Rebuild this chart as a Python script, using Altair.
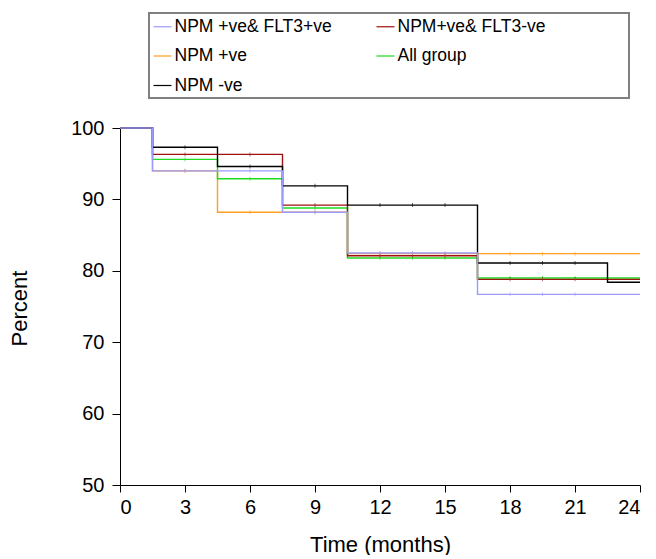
import altair as alt
import pandas as pd

# Series names (legend order) and colours
names = ["NPM +ve& FLT3+ve", "NPM+ve& FLT3-ve", "NPM +ve", "All group", "NPM -ve"]
colors = ["#9a9aff", "#a01010", "#ff9f1f", "#1edc1e", "#000000"]

# Kaplan-Meier step data (time in months, percent surviving)
t_flt3pos = [0, 1.5, 7.5, 10.5, 16.5, 24]
v_flt3pos = [100, 94.0, 88.2, 82.5, 76.7, 76.7]

t_flt3neg = [0, 1.5, 7.5, 10.5, 16.5, 24]
v_flt3neg = [100, 96.3, 89.2, 82.1, 78.8, 78.8]

t_npmpos = [0, 1.5, 4.5, 10.5, 24]
v_npmpos = [100, 94.0, 88.2, 82.4, 82.4]

t_all = [0, 1.5, 4.5, 7.5, 10.5, 16.5, 24]
v_all = [100, 95.6, 92.9, 88.8, 81.8, 79.0, 79.0]

t_npmneg = [0, 1.5, 4.5, 7.5, 10.5, 16.5, 22.5, 24]
v_npmneg = [100, 97.3, 94.6, 91.9, 89.2, 81.1, 78.4, 78.4]

# censoring marks
censor_times = [3, 6, 9, 12, 13.5, 15, 18, 19.5, 21]

x_ticks = [0, 3, 6, 9, 12, 15, 18, 21, 24]
y_ticks = [50, 60, 70, 80, 90, 100]

# drawing order (last on top)
series = [
    ("NPM +ve", t_npmpos, v_npmpos),
    ("All group", t_all, v_all),
    ("NPM+ve& FLT3-ve", t_flt3neg, v_flt3neg),
    ("NPM -ve", t_npmneg, v_npmneg),
    ("NPM +ve& FLT3+ve", t_flt3pos, v_flt3pos),
]

rows = []
cens = []
for order, (name, ts, vs) in enumerate(series):
    for t, v in zip(ts, vs):
        rows.append({"g": name, "t": t, "v": v, "o": order})
    for c in censor_times:
        val = vs[0]
        for t, v in zip(ts, vs):
            if t <= c:
                val = v
        cens.append({"g": name, "t": c, "v": val, "o": order})

df = pd.DataFrame(rows)
dc = pd.DataFrame(cens)

FONT = "Liberation Sans"

color = alt.Color(
    "g:N",
    scale=alt.Scale(domain=names, range=colors),
    legend=alt.Legend(
        orient="none", legendX=29, legendY=-115, columns=2, direction="horizontal",
        symbolType="stroke", symbolSize=324, symbolStrokeWidth=1.2,
        labelFont=FONT, labelFontSize=17.5, labelColor="#000000", labelOffset=2,
        labelLimit=400, rowPadding=10.5, columnPadding=41, padding=3.5,
        strokeColor="#808080", fillColor="#ffffff",
        title="x", titleOrient="right", titleColor="#ffffff", titlePadding=74,
        titleFontSize=10,
    ),
)

x = alt.X(
    "t:Q",
    scale=alt.Scale(domain=[0, 24], nice=False, zero=False),
    axis=alt.Axis(
        values=x_ticks, title="Time (months)", grid=False,
        domainColor="#000000", tickColor="#000000", tickSize=7,
        labelFont=FONT, labelFontSize=20, labelColor="#000000", labelPadding=5,
        titleFont=FONT, titleFontSize=22, titleFontWeight="normal", titleColor="#000000",
        titleY=66, titleBaseline="alphabetic",
    ),
)
y = alt.Y(
    "v:Q",
    scale=alt.Scale(domain=[50, 100], nice=False, zero=False),
    axis=alt.Axis(
        values=y_ticks, title="Percent", grid=False,
        domainColor="#000000", tickColor="#000000", tickSize=8,
        labelFont=FONT, labelFontSize=20, labelColor="#000000", labelPadding=8,
        titleFont=FONT, titleFontSize=22, titleFontWeight="normal", titleColor="#000000",
        titleX=-101, titleY=180, titleAngle=270, titleAlign="center", titleBaseline="middle",
    ),
)

lines = alt.Chart(df).mark_line(interpolate="step-after", strokeWidth=1.4).encode(
    x=x, y=y, color=color, order=alt.Order("o:Q")
)

ticks = alt.Chart(dc).mark_tick(orient="vertical", size=4, thickness=1, opacity=0.6).encode(
    x=alt.X("t:Q"), y=alt.Y("v:Q"), color=alt.Color("g:N", legend=None)
)

chart = alt.layer(lines, ticks).properties(
    width=520, height=357,
    padding={"left": 112, "top": 120, "right": 8, "bottom": 70},
    autosize=alt.AutoSizeParams(type="none"),
).configure_view(stroke=None).configure_legend(strokeWidth=2)

chart.save("out.html", embed_options={"renderer": "svg", "actions": False})
